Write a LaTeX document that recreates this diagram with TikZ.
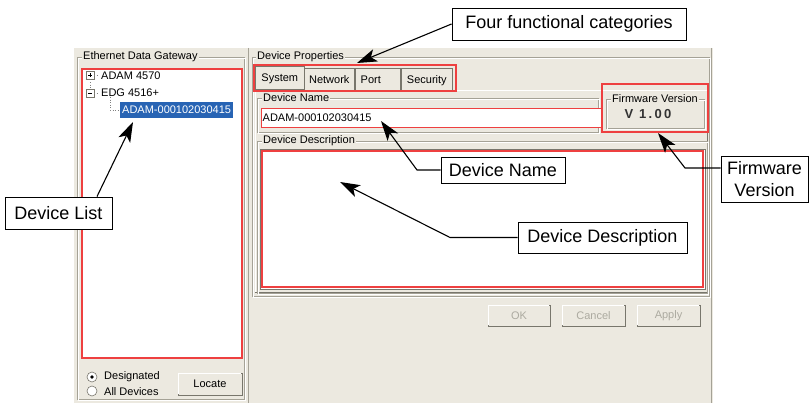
\documentclass[tikz,border=0pt]{standalone}
\usepackage{fontspec}
\setmainfont{Liberation Sans}
\usetikzlibrary{arrows.meta,calc}
\definecolor{dlg}{RGB}{236,233,224}
\definecolor{edgeg}{RGB}{165,162,150}
\definecolor{redb}{RGB}{238,64,64}
\definecolor{selb}{RGB}{40,100,180}
\definecolor{disg}{RGB}{172,170,160}
\definecolor{darkg}{RGB}{120,118,108}
\tikzset{
  ui/.style={font=\fontsize{11}{13}\selectfont, inner sep=1pt},
  grplabel/.style={ui, fill=dlg, anchor=west, inner sep=1pt},
  callout/.style={draw=black, line width=0.9pt, fill=white, font=\fontsize{18}{22}\selectfont, inner sep=2pt},
  pointer/.style={line width=1.1pt, -{Stealth[length=20pt,width=13pt,inset=5pt]}},
  etch/.style={draw=edgeg, line width=0.8pt},
  etchw/.style={draw=white, line width=0.8pt},
  redbox/.style={draw=redb, line width=1.2pt},
  btn/.style={ui, fill=dlg, draw=darkg, line width=0.8pt, minimum width=63pt, minimum height=21pt},
  tabbox/.style={ui, fill=dlg, draw=darkg, line width=0.6pt, anchor=north west, minimum height=23pt, text depth=0pt, align=left},
  treetxt/.style={ui, anchor=west},
  dots/.style={draw=gray, dotted, line width=0.6pt},
}
\begin{document}
\begin{tikzpicture}[x=1pt,y=-1pt]
\useasboundingbox (0,0) rectangle (811,403);
% dialog background
\fill[dlg] (74,48) rectangle (713,403);
% ---------- left panel ----------
\draw[etch] (77,57) rectangle (244,399);
\draw[etchw] (78,58) rectangle (245,400);
\node[grplabel] (gwlabel) at (82,57) {Ethernet Data Gateway};
% tree view
\draw[redbox, fill=white] (82,69) rectangle (242,358);
\draw[darkg, line width=0.6pt, fill=white] (86,71.5) rectangle (94,79.5);
\draw[black, line width=0.6pt] (88,75.5) -- (92,75.5) (90,73.5) -- (90,77.5);
\draw[dots] (94,75.5) -- (99,75.5);
\node[treetxt] (t1) at (100,75.5) {ADAM 4570};
\draw[darkg, line width=0.6pt, fill=white] (86,89) rectangle (94,97);
\draw[black, line width=0.6pt] (88,93) -- (92,93);
\draw[dots] (94,93) -- (99,93);
\draw[dots] (90,79.5) -- (90,89);
\node[treetxt] (t2) at (100,93) {EDG 4516+};
\draw[dots] (110,97) -- (110,110) -- (119,110);
\node[treetxt, fill=selb, text=white, minimum height=16pt, inner sep=2pt] (sel) at (120,110) {ADAM-000102030415};
% radio buttons
\draw[darkg, fill=white, line width=0.6pt] (92,377) circle (5);
\fill[black] (92,377) circle (1.8);
\draw[darkg, fill=white, line width=0.6pt] (92,391) circle (5);
\node[treetxt] (r1) at (103,377) {Designated};
\node[treetxt] (r2) at (103,392) {All Devices};
\node[btn, minimum width=64pt, minimum height=22pt] (locate) at (210,384) {Locate};
\draw[white, line width=0.8pt] ([shift={(1,-1)}]locate.south west) |- ([shift={(-1,1)}]locate.north east);
% ---------- right panel ----------
\draw[etch] (248.5,48) -- (248.5,403);
\draw[etch] (711.5,48) -- (711.5,403);
\draw[etch] (252,57) rectangle (709,296);
\draw[etchw] (253,58) rectangle (710,297);
\node[grplabel] (dplabel) at (256,57) {Device Properties};
% tab page
\draw[white, line width=0.8pt] (255,292) |- (707,90);
\draw[darkg, line width=0.8pt] (707,90) |- (255,292);
% tabs
\node[tabbox, minimum width=49pt] (tsys) at (255,66) {System};
\node[tabbox, minimum width=50pt, minimum height=22pt] (tnet) at (304,68) {Network};
\node[tabbox, minimum width=45pt, minimum height=22pt] (tport) at (355,68) {Port\hspace{14pt}};
\node[tabbox, minimum width=51pt, minimum height=22pt] (tsec) at (401,68) {Security};
\draw[redbox] (254,65) rectangle (456,91);
% device name
\draw[etch] (257,98) rectangle (598,132);
\draw[etchw] (258,99) rectangle (599,133);
\node[grplabel] (dnlabel) at (262,98) {Device Name};
\node[ui, draw=redb, line width=1.2pt, fill=white, anchor=north west, minimum width=340pt, minimum height=19pt, inner sep=0pt] (namebox) at (261,108) {};
\node[treetxt] (nametext) at (261.5,117.5) {ADAM-000102030415};
% firmware version
\draw[redbox] (602,84) rectangle (708,132);
\draw[etch] (606,99) rectangle (704,128);
\draw[etchw] (607,100) rectangle (705,129);
\node[ui, fill=dlg] (fwlabel) at (655,99) {Firmware Version};
\node[font=\fontsize{13}{15}\selectfont\bfseries\addfontfeature{LetterSpace=18}, text=black!80, inner sep=0pt] (fwver) at (648,114) {V 1.00};
% device description
\draw[etch] (257,141) rectangle (707,293);
\draw[etchw] (258,142) rectangle (708,294);
\node[grplabel] (ddlabel) at (262,141) {Device Description};
\draw[darkg, fill=white, line width=0.8pt] (260,149) rectangle (705,289);
\draw[redbox] (262,151) rectangle (703,287);
% buttons
\node[btn, text=disg, minimum width=62pt] (ok) at (519,315.5) {OK};
\node[btn, text=disg] (cancel) at (593.5,315.5) {Cancel};
\node[btn, text=disg] (apply) at (668.5,315.5) {Apply};
\foreach \b in {ok,cancel,apply}{
  \draw[white, line width=0.8pt] ([shift={(1,-1)}]\b.south west) |- ([shift={(-1,1)}]\b.north east);
}
% ---------- callouts ----------
\node[callout, minimum width=234pt, minimum height=32pt] (fc) at (569,24) {Four functional categories};
\coordinate (fctip) at (357,63);
\draw[pointer] (fc.west) -- (fctip);

\node[callout, minimum width=124pt, minimum height=26pt] (dn) at (503,170) {Device Name};
\coordinate (dnk) at (417,170);
\coordinate (dntip) at (381,121);
\draw[pointer] (dn.west) -- (dnk) -- (dntip);

\node[callout, align=center, minimum width=87pt, minimum height=46pt, inner sep=1pt] (fv) at (764.5,179) {Firmware\\Version};
\coordinate (fvk) at (685,168);
\coordinate (fvtip) at (658,133);
\draw[pointer] (fv.west |- fvk) -- (fvk) -- (fvtip);

\node[callout, minimum width=169pt, minimum height=31pt] (dd) at (602.5,237.5) {Device Description};
\coordinate (ddk) at (450,237.5);
\coordinate (ddtip) at (340,182);
\draw[pointer] (dd.west) -- (ddk) -- (ddtip);

\node[callout, minimum width=107pt, minimum height=32pt] (dl) at (58.5,213) {Device List};
\coordinate (dlk) at (97,197);
\coordinate (dltip) at (133,122);
\draw[pointer] (dl.north -| dlk) -- (dltip);
\end{tikzpicture}
\end{document}
